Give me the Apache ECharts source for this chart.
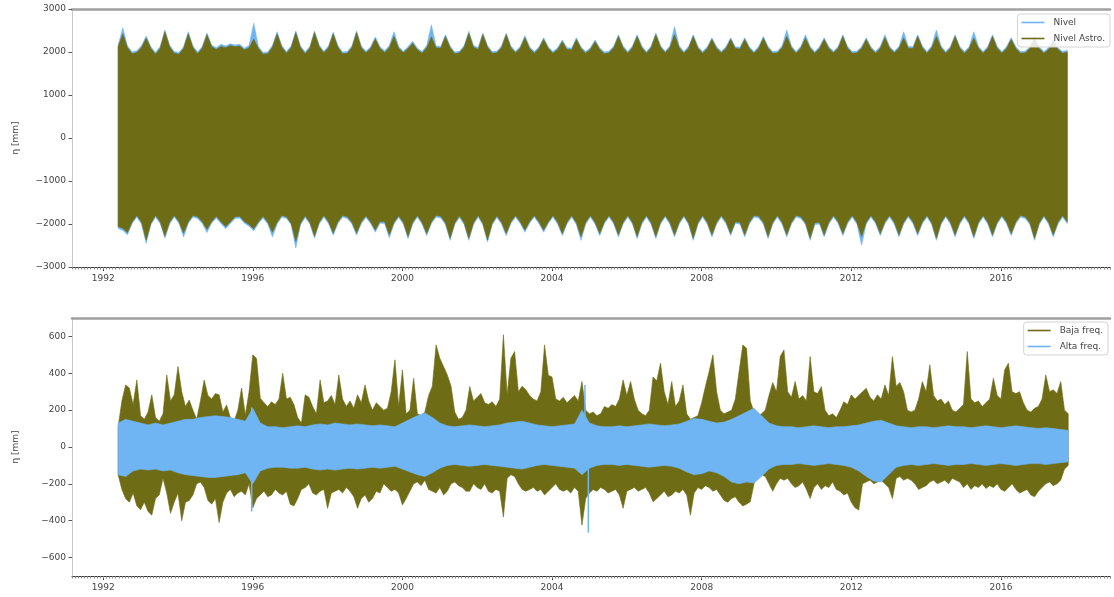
<!DOCTYPE html>
<html><head><meta charset="utf-8">
<script src="https://cdn.jsdelivr.net/npm/echarts@6/dist/echarts.min.js"></script>
<style>html,body{margin:0;padding:0;background:#fff}#c{width:1114px;height:597px}</style>
</head><body><div id="c"></div>
<script>
// ---- axis ticks ----
const YEAR_TICKS = [1992, 1996, 2000, 2004, 2008, 2012, 2016];
const TOP_Y_TICKS = [-3000, -2000, -1000, 0, 1000, 2000, 3000];
const BOT_Y_TICKS = [-600, -400, -200, 0, 200, 400, 600];
const X_MIN = 1991 + 2 / 12, X_MAX = 2018 + 11 / 12;

// ---- top panel: envelopes sampled every 0.125 yr from 1992.4 ----
const TOP_T0 = 1992.4, TOP_STEP = 0.125;
const NIVEL_ASTRO_UP = [2120,2420,2100,1960,1990,2100,2320,2080,1950,2090,
2470,2120,1970,1950,2080,2420,2100,1960,2090,2400,
2120,2060,2130,2100,2150,2120,2140,2050,2100,2300,
2080,1950,1960,2110,2420,2110,1970,2100,2450,2100,
1960,2090,2450,2120,1980,2100,2420,2110,1960,1970,
2100,2450,2100,1980,2080,2300,2080,1990,2100,2360,
2090,1980,2080,2200,2050,1970,2100,2350,2100,2090,
2360,2100,1960,1980,2110,2430,2110,2060,2400,2110,
1970,1980,2100,2400,2100,1980,2090,2330,2080,1970,
2080,2290,2080,1970,2060,2240,2060,2050,2290,2080,
1970,2060,2240,2060,1960,1980,2100,2360,2100,1970,
2100,2360,2100,1970,2100,2400,2110,1980,2100,2400,
2100,1970,2090,2360,2090,1970,2080,2290,2080,1980,
2080,2290,2080,2070,2290,2080,1970,2090,2320,2090,
1970,1980,2100,2360,2100,1970,2090,2320,2090,1970,
2080,2290,2080,1980,2090,2360,2090,1970,1980,2080,
2290,2080,1970,2090,2330,2090,1980,2090,2320,2090,
2080,2360,2100,1970,2100,2360,2100,1970,2090,2360,
2090,1970,2080,2320,2090,1970,2090,2360,2090,1970,
2080,2290,2080,1970,1980,2080,2300,2080,1970,2060,
2250,2060,1970,2000];
const NIVEL_ASTRO_LOW = [-2060,-2100,-2200,-1950,-1800,-1960,-2370,-1980,-1800,-1950,
-2280,-1960,-1800,-1940,-2210,-1950,-1800,-1830,-1950,-2120,
-1940,-1820,-1950,-2060,-1950,-1830,-1820,-1940,-2010,-2110,
-1950,-1820,-1960,-2190,-1960,-1800,-1830,-1980,-2400,-1980,
-1810,-1960,-2280,-1960,-1800,-1950,-2210,-1950,-1800,-1830,
-1960,-2210,-1950,-1810,-1950,-2140,-1940,-1950,-2250,-1960,
-1810,-1960,-2290,-1960,-1800,-1960,-2220,-1950,-1800,-1820,
-1970,-2330,-1970,-1810,-1970,-2330,-1970,-1800,-1980,-2370,
-1980,-1810,-1960,-2220,-1950,-1800,-1950,-2140,-1940,-1800,
-1950,-2140,-1950,-1800,-1960,-2220,-1960,-1800,-1970,-2290,
-1960,-1800,-1960,-2220,-1950,-1800,-1960,-2250,-1960,-1800,
-1960,-2290,-1960,-1800,-1970,-2290,-1960,-1800,-1960,-2250,
-1960,-1800,-1970,-2330,-1970,-1800,-1960,-2250,-1960,-1800,
-1950,-2220,-1950,-1960,-2250,-1960,-1800,-1820,-1960,-2290,
-1960,-1800,-1960,-2250,-1960,-1800,-1830,-1970,-2330,-1970,
-1960,-2250,-1960,-1800,-1950,-2220,-1950,-1800,-1960,-2290,
-1960,-1800,-1950,-2220,-1950,-1800,-1960,-2250,-1960,-1800,
-1950,-2220,-1950,-1800,-1970,-2330,-1970,-1800,-1960,-2250,
-1960,-1800,-1960,-2290,-1960,-1800,-1960,-2250,-1960,-1800,
-1950,-2220,-1950,-1800,-1830,-1970,-2330,-1970,-1800,-1960,
-2250,-1960,-1800,-1950];
const NIVEL_UP = [2160,2560,2140,2000,2030,2150,2370,2120,1990,2130,
2510,2160,2010,1990,2120,2470,2140,2000,2130,2440,
2160,2100,2180,2140,2190,2160,2180,2090,2150,2670,
2130,1990,2000,2150,2470,2150,2010,2140,2490,2140,
2000,2130,2490,2160,2020,2140,2460,2150,2000,2010,
2140,2490,2140,2020,2120,2350,2120,2030,2150,2470,
2130,2020,2120,2250,2090,2010,2150,2630,2140,2130,
2400,2140,2000,2020,2150,2480,2150,2100,2440,2150,
2010,2020,2140,2440,2140,2020,2130,2380,2120,2010,
2120,2330,2120,2010,2100,2280,2100,2090,2330,2120,
2010,2100,2280,2100,2000,2020,2140,2400,2140,2010,
2140,2400,2140,2010,2140,2440,2150,2020,2140,2590,
2140,2010,2130,2400,2130,2010,2120,2330,2120,2020,
2120,2330,2120,2110,2330,2120,2010,2130,2360,2130,
2010,2020,2140,2510,2140,2010,2130,2400,2130,2010,
2120,2330,2120,2020,2130,2400,2130,2010,2020,2120,
2330,2120,2010,2130,2400,2130,2020,2130,2470,2130,
2120,2400,2140,2010,2140,2510,2140,2010,2130,2400,
2130,2010,2120,2470,2130,2010,2130,2400,2130,2010,
2120,2330,2120,2010,2020,2120,2340,2120,2010,2100,
2290,2100,2010,2040];
const NIVEL_LOW = [-2100,-2150,-2250,-1990,-1840,-2000,-2450,-2020,-1840,-1990,
-2330,-2000,-1840,-1980,-2300,-1990,-1840,-1870,-1990,-2200,
-1980,-1860,-1990,-2110,-1990,-1870,-1860,-1980,-2050,-2160,
-1990,-1860,-2000,-2300,-2000,-1840,-1870,-2020,-2560,-2020,
-1850,-2000,-2330,-2000,-1840,-1990,-2260,-1990,-1840,-1870,
-2000,-2260,-1990,-1850,-1990,-2190,-1980,-1990,-2320,-2000,
-1850,-2000,-2340,-2000,-1840,-2000,-2270,-1990,-1840,-1860,
-2010,-2380,-2010,-1850,-2010,-2380,-2010,-1840,-2020,-2420,
-2020,-1850,-2000,-2270,-1990,-1840,-1990,-2190,-1980,-1840,
-1990,-2190,-1990,-1840,-2000,-2270,-2000,-1840,-2010,-2380,
-2000,-1840,-2000,-2270,-1990,-1840,-2000,-2300,-2000,-1840,
-2000,-2340,-2000,-1840,-2010,-2340,-2000,-1840,-2000,-2300,
-2000,-1840,-2010,-2380,-2010,-1840,-2000,-2300,-2000,-1840,
-1990,-2270,-1990,-2000,-2300,-2000,-1840,-1860,-2000,-2340,
-2000,-1840,-2000,-2300,-2000,-1840,-1870,-2010,-2380,-2010,
-2000,-2300,-2000,-1840,-1990,-2270,-1990,-1840,-2000,-2490,
-2000,-1840,-1990,-2270,-1990,-1840,-2000,-2300,-2000,-1840,
-1990,-2270,-1990,-1840,-2010,-2380,-2010,-1840,-2000,-2300,
-2000,-1840,-2000,-2340,-2000,-1840,-2000,-2300,-2000,-1840,
-1990,-2270,-1990,-1840,-1870,-2010,-2380,-2010,-1840,-2000,
-2300,-2000,-1840,-1990];

// ---- bottom panel: low-frequency envelope every 0.1 yr from 1992.4 ----
const BOT_T0 = 1992.4, BOT_STEP = 0.1;
const BAJA_UP = [110,250,337,320,230,364,170,150,190,283,
160,140,180,391,250,283,437,300,220,255,
200,150,250,364,280,260,290,283,190,228,
160,140,200,320,174,300,500,480,264,240,
220,245,230,260,400,260,270,230,160,130,
283,270,220,180,364,240,250,280,230,391,
260,220,250,210,283,240,337,250,200,240,
220,200,210,300,473,220,418,180,200,373,
180,170,190,280,330,554,482,437,391,330,
190,150,160,200,328,250,270,290,240,230,
246,220,260,609,283,482,518,300,330,310,
280,260,250,300,554,390,380,260,250,270,
240,260,280,250,355,200,180,190,170,180,
220,210,230,220,260,364,280,355,260,200,
180,170,200,380,360,455,300,230,355,220,
250,337,180,150,160,170,240,328,410,500,
300,200,180,190,200,260,410,554,536,250,
190,170,180,200,280,350,300,491,527,300,
270,355,260,280,250,491,300,290,328,200,
170,180,160,200,246,230,283,260,280,300,
319,270,250,283,260,337,280,491,330,350,
300,200,190,200,260,355,300,446,280,250,
260,230,250,200,190,210,230,518,260,240,
250,220,240,260,373,280,260,418,455,300,
290,300,240,200,190,210,220,260,391,300,
310,290,355,200,180];
const BAJA_LOW = [-150,-230,-280,-300,-250,-320,-340,-300,-350,-370,
-280,-260,-170,-250,-360,-300,-250,-400,-300,-290,
-260,-200,-190,-220,-290,-310,-280,-410,-300,-250,
-230,-270,-250,-240,-260,-200,-330,-280,-260,-240,
-270,-260,-230,-250,-260,-240,-310,-320,-280,-230,
-220,-200,-250,-260,-240,-230,-333,-250,-240,-230,
-250,-220,-240,-270,-333,-280,-260,-300,-280,-240,
-250,-200,-220,-240,-230,-250,-315,-280,-240,-200,
-190,-210,-180,-230,-240,-250,-220,-260,-240,-200,
-190,-210,-220,-240,-240,-200,-220,-230,-200,-240,
-250,-230,-240,-380,-170,-150,-160,-200,-230,-240,
-230,-220,-240,-230,-260,-240,-220,-200,-230,-240,
-230,-250,-220,-240,-424,-280,-250,-230,-240,-220,
-230,-250,-240,-230,-260,-333,-240,-230,-220,-240,
-230,-220,-250,-297,-280,-260,-240,-270,-260,-240,
-250,-230,-260,-370,-250,-220,-230,-210,-220,-240,
-230,-260,-290,-300,-280,-270,-300,-320,-310,-297,
-200,-160,-150,-160,-200,-240,-200,-170,-180,-170,
-200,-220,-210,-190,-230,-280,-220,-200,-230,-210,
-220,-190,-230,-240,-260,-250,-300,-330,-342,-200,
-190,-180,-200,-190,-180,-200,-220,-280,-170,-160,
-180,-170,-180,-200,-230,-220,-210,-190,-180,-200,
-190,-180,-200,-170,-180,-190,-220,-200,-230,-210,
-220,-200,-225,-210,-220,-200,-230,-240,-220,-200,
-230,-250,-240,-230,-260,-270,-240,-220,-200,-190,
-210,-200,-180,-120,-100];

// ---- bottom panel: high-frequency envelope every 0.2 yr from 1992.4 ----
const ALTA_T0 = 1992.4, ALTA_STEP = 0.2;
const ALTA_UP = [130,150,140,130,120,130,120,130,140,150,
150,160,165,170,165,160,150,140,210,130,
110,110,105,110,115,110,120,125,120,130,
125,120,125,120,115,120,115,110,130,150,
170,185,160,130,115,110,115,120,115,110,
115,120,130,135,140,130,120,115,110,115,
120,125,200,130,115,110,110,115,110,115,
120,125,120,115,120,125,140,155,150,140,
130,135,150,170,190,210,170,130,115,110,
110,105,110,115,110,105,110,110,115,120,
130,140,145,130,115,110,105,110,110,105,
110,115,110,110,105,110,115,110,105,110,
115,110,105,100,105,100,95,90];
const ALTA_LOW = [-150,-160,-130,-120,-125,-120,-130,-125,-140,-150,
-155,-160,-165,-165,-160,-155,-150,-140,-200,-130,
-115,-110,-110,-115,-115,-110,-120,-125,-120,-125,
-120,-115,-120,-115,-110,-115,-110,-105,-120,-135,
-150,-160,-140,-115,-100,-95,-100,-105,-100,-95,
-100,-105,-110,-115,-120,-110,-100,-95,-100,-105,
-110,-115,-150,-115,-100,-95,-95,-100,-95,-100,
-105,-110,-105,-100,-105,-115,-135,-150,-145,-130,
-140,-160,-190,-200,-190,-195,-160,-120,-100,-95,
-95,-90,-95,-100,-95,-90,-95,-100,-110,-130,
-160,-185,-190,-150,-110,-100,-95,-100,-95,-90,
-95,-100,-95,-95,-90,-95,-100,-95,-90,-95,
-100,-95,-90,-90,-95,-90,-85,-80];
// isolated high-frequency spikes: [year, top, bottom]
const ALTA_SPIKES = [[1995.97, 215, -350], [2004.88, 337, -100], [2004.97, 100, -465]];

// ---- styles ----
const OLIVE = '#6e6c14';
const SKY = '#6fb5f4';
const FONT = 'DejaVu Sans';
const TXT = '#444';

function bandSeries(name, color, t0, step, up, low, gi) {
  return {
    type: 'custom', name, xAxisIndex: gi * 3, yAxisIndex: gi, clip: true,
    itemStyle: { color },
    data: [[t0, 0]], encode: { x: 0, y: 1 },
    renderItem: function (params, api) {
      const pts = [];
      for (let i = 0; i < up.length; i++) pts.push(api.coord([t0 + i * step, up[i]]));
      for (let i = low.length - 1; i >= 0; i--) pts.push(api.coord([t0 + i * step, low[i]]));
      return { type: 'polygon', shape: { points: pts }, style: { fill: color, stroke: color, lineWidth: 0.6 } };
    }
  };
}
function spikeSeries(name, color, spikes, gi) {
  return {
    type: 'custom', name, xAxisIndex: gi * 3, yAxisIndex: gi, clip: true,
    itemStyle: { color },
    data: spikes, encode: { x: 0, y: [1, 2] },
    renderItem: function (params, api) {
      const a = api.coord([api.value(0), api.value(1)]);
      const b = api.coord([api.value(0), api.value(2)]);
      return { type: 'line', shape: { x1: a[0], y1: a[1], x2: b[0], y2: b[1] }, style: { stroke: color, lineWidth: 1.5 } };
    }
  };
}

const fmtNum = v => (v < 0 ? '\u2212' + Math.abs(v) : String(v));
function xAxes(gi) {
  return [
    { type: 'value', gridIndex: gi, min: X_MIN, max: X_MAX, position: 'bottom',
      axisLine: { show: true, onZero: false, lineStyle: { color: '#333', width: 1 } },
      axisTick: { show: true, customValues: YEAR_TICKS, length: 4, lineStyle: { color: '#333' } },
      axisLabel: { customValues: YEAR_TICKS, formatter: v => String(Math.round(v)), fontSize: 9, color: TXT, fontFamily: FONT, margin: 7 },
      splitLine: { show: false } },
    { type: 'value', gridIndex: gi, min: X_MIN, max: X_MAX, interval: 1 / 12, position: 'bottom',
      axisLine: { show: false, onZero: false }, axisTick: { show: true, length: 2.5, lineStyle: { color: '#888' } },
      axisLabel: { show: false }, splitLine: { show: false } },
    { type: 'value', gridIndex: gi, min: X_MIN, max: X_MAX, position: 'top',
      axisLine: { show: true, onZero: false, lineStyle: { color: '#a0a0a0', width: 2.5 } },
      axisTick: { show: false }, axisLabel: { show: false }, splitLine: { show: false } }
  ];
}
function yAxis(gi, min, max, ticks) {
  return { type: 'value', gridIndex: gi, min, max,
    name: '\u03b7 [mm]', nameLocation: 'middle', nameRotate: 90, nameGap: 52,
    nameTextStyle: { fontSize: 9, color: TXT, fontFamily: FONT },
    axisLine: { show: true, onZero: false, lineStyle: { color: '#c8c8c8', width: 1 } },
    axisTick: { show: true, customValues: ticks, length: 3.5, lineStyle: { color: '#555' } },
    axisLabel: { customValues: ticks, formatter: fmtNum, fontSize: 9, color: TXT, fontFamily: FONT, margin: 6 },
    splitLine: { show: false } };
}
function legend(names, right, top) {
  return { data: names.map(n => ({ name: n, icon: 'rect' })), orient: 'vertical', right, top,
    itemWidth: 23, itemHeight: 1.6, itemGap: 7,
    backgroundColor: 'rgba(255,255,255,0.85)', borderColor: '#d4d4d4', borderWidth: 1, borderRadius: 3,
    padding: [4, 5, 4, 4],
    textStyle: { fontSize: 9, color: TXT, fontFamily: FONT, padding: [0, 0, 0, 4] } };
}

const chart = echarts.init(document.getElementById('c'), null, { renderer: 'canvas' });
chart.setOption({
  animation: false,
  backgroundColor: '#fff',
  grid: [
    { left: 72, right: 4, top: 9, height: 258 },
    { left: 72, right: 4, top: 318, height: 258 }
  ],
  xAxis: [...xAxes(0), ...xAxes(1)],
  yAxis: [yAxis(0, -3000, 3000, TOP_Y_TICKS), yAxis(1, -700, 700, BOT_Y_TICKS)],
  legend: [legend(['Nivel', 'Nivel Astro.'], 4, 14), legend(['Baja freq.', 'Alta freq.'], 6, 322)],
  series: [
    bandSeries('Nivel', SKY, TOP_T0, TOP_STEP, NIVEL_UP, NIVEL_LOW, 0),
    bandSeries('Nivel Astro.', OLIVE, TOP_T0, TOP_STEP, NIVEL_ASTRO_UP, NIVEL_ASTRO_LOW, 0),
    bandSeries('Baja freq.', OLIVE, BOT_T0, BOT_STEP, BAJA_UP, BAJA_LOW, 1),
    bandSeries('Alta freq.', SKY, ALTA_T0, ALTA_STEP, ALTA_UP, ALTA_LOW, 1),
    spikeSeries('Alta freq.', SKY, ALTA_SPIKES, 1)
  ]
});
</script></body></html>
